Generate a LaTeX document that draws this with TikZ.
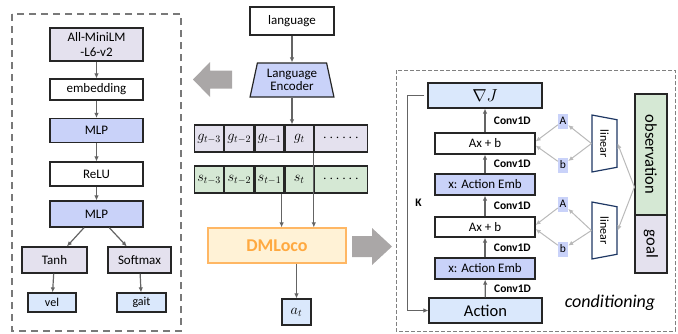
\documentclass[tikz,border=0pt]{standalone}
\usepackage{fontspec}
\setmainfont{Carlito}
\usetikzlibrary{arrows.meta,shapes.geometric}

\definecolor{lav}{RGB}{228,225,238}
\definecolor{mlpblue}{RGB}{201,210,249}
\definecolor{lblue}{RGB}{218,232,252}
\definecolor{lgreen}{RGB}{213,232,212}
\definecolor{dmfill}{RGB}{255,242,214}
\definecolor{dmedge}{RGB}{255,183,100}
\definecolor{dmtext}{RGB}{255,169,64}
\definecolor{bigarr}{RGB}{170,167,167}
\definecolor{edge}{RGB}{38,38,38}
\definecolor{navy}{RGB}{31,56,100}

\begin{document}
\begin{tikzpicture}[x=1pt,y=-1pt,
		box/.style={draw=edge,line width=1.2pt,minimum width=93pt,minimum height=24pt,inner sep=1pt,font=\fontsize{13}{14.5}\selectfont},
		rbox/.style={box,minimum width=100pt,minimum height=21pt},
		cell/.style={draw=edge,line width=1.2pt,minimum height=27pt,inner sep=0pt,anchor=west,font=\fontsize{14}{16}\selectfont},
		small/.style={fill=mlpblue,minimum width=10pt,minimum height=15pt,inner sep=0pt,font=\fontsize{11.5}{12}\selectfont},
		linear/.style={trapezium,draw=navy,line width=1.2pt,fill=white,rotate=-90,trapezium left angle=72,trapezium right angle=72,
			trapezium stretches=true,minimum width=57pt,minimum height=25pt,inner sep=0pt,font=\fontsize{12}{12}\selectfont},
		arr/.style={-{Latex[length=5pt,width=4.5pt]},line width=1.2pt,draw={rgb,255:red,100;green,100;blue,100}},
		larr/.style={-{Latex[length=5pt,width=4.5pt]},line width=1pt,draw={rgb,255:red,185;green,185;blue,185}},
		conv/.style={anchor=west,xshift=5pt,font=\bfseries\fontsize{11.5}{12}\selectfont}]
	\useasboundingbox (0,0) rectangle (678,333);

	% text encoder panel
	\draw[gray!95!black,line width=1.5pt,dash pattern=on 7pt off 5pt] (12,14) rectangle (181,331);
	\node[box,fill=lav,minimum height=33pt,align=center] (mini) at (96.5,44.5) {All-MiniLM\\-L6-v2};
	\node[box,minimum height=21pt] (emb) at (96.5,89.5) {embedding};
	\node[box,fill=mlpblue] (mlp1) at (96.5,130.5) {MLP};
	\node[box] (relu) at (96.5,174) {ReLU};
	\node[box,fill=mlpblue,minimum height=26pt] (mlp2) at (96.5,214) {MLP};
	\node[box,fill=lav,minimum width=65pt,minimum height=26pt] (tanh) at (54.5,260) {Tanh};
	\node[box,fill=lav,minimum width=63pt,minimum height=26pt] (soft) at (139.5,260) {Softmax};
	\node[box,fill=lblue,minimum width=48pt,minimum height=19pt,font=\fontsize{12}{12}\selectfont] (vel) at (52,302.5) {vel};
	\node[box,fill=lblue,minimum width=49pt,minimum height=19pt,font=\fontsize{12}{12}\selectfont] (gait) at (141.5,302.5) {gait};
	\foreach \a/\b in {mini/emb,emb/mlp1,mlp1/relu,relu/mlp2,mlp2/tanh,mlp2/soft,tanh/vel,soft/gait}
		\draw[arr] (\a) -- (\b);

	% big arrows
	\fill[bigarr] (193,79.5) -- (210,62) -- (210,70.5) -- (232,70.5) -- (232,88.5) -- (210,88.5) -- (210,97) -- cycle;
	\fill[bigarr] (392,246.5) -- (372,228) -- (372,236) -- (352,236) -- (352,257) -- (372,257) -- (372,265) -- cycle;

	% middle column
	\node[box,minimum width=84pt,minimum height=28pt] (lang) at (292,21) {language};
	\node[trapezium,draw=edge,line width=1.2pt,fill=mlpblue,trapezium left angle=77,trapezium right angle=77,trapezium stretches=true,
		minimum width=84pt,minimum height=34pt,inner sep=1pt,align=center,font=\fontsize{13}{13.5}\selectfont] (enc) at (292,80) {Language\\Encoder};
	\node[cell,fill=lav,minimum width=29pt] (g3) at (194,138.5) {$g_{t-3}$};
	\node[cell,fill=lav,minimum width=29pt] (g2) at (g3.east) {$g_{t-2}$};
	\node[cell,fill=lav,minimum width=29pt] (g1) at (g2.east) {$g_{t-1}$};
	\node[cell,fill=lav,minimum width=28pt] (g0) at (g1.east) {$g_{t}$};
	\node[cell,fill=lav,minimum width=53pt] (gd) at (g0.east) {$\cdots\cdots$};
	\node[cell,fill=lgreen,minimum width=29pt] (s3) at (194,179.5) {$s_{t-3}$};
	\node[cell,fill=lgreen,minimum width=29pt] (s2) at (s3.east) {$s_{t-2}$};
	\node[cell,fill=lgreen,minimum width=29pt] (s1) at (s2.east) {$s_{t-1}$};
	\node[cell,fill=lgreen,minimum width=28pt] (s0) at (s1.east) {$s_{t}$};
	\node[cell,fill=lgreen,minimum width=53pt] (sd) at (s0.east) {$\cdots\cdots$};
	\node[draw=dmedge,line width=1.2pt,fill=dmfill,minimum width=138pt,minimum height=35pt,text=dmtext,
		font=\bfseries\fontsize{18}{20}\selectfont] (dm) at (277,245.5) {DMLoco};
	\node[box,fill=lblue,minimum width=29pt,minimum height=26pt,font=\fontsize{14}{16}\selectfont] (at) at (296.5,312) {$a_t$};
	\draw[arr] (lang) -- (enc);
	\draw[arr] (enc.south) -- (enc.south |- g0.north);
	\draw[arr] (g0.south east) -- (g0.south east |- dm.north);
	\draw[arr] ([xshift=-3pt]s1.south east) -- ([xshift=-3pt]s1.south east |- dm.north);
	\draw[arr] (dm.south -| at.north) -- (at.north);

	% conditioning panel
	\draw[gray,line width=1pt,dash pattern=on 4pt off 2pt] (396,70) rectangle (675,331);
	\node[box,fill=lblue,minimum width=114pt,minimum height=25pt,font=\fontsize{17}{18}\selectfont] (nabla) at (485,95.5) {$\nabla J$};
	\node[rbox] (ab1) at (485,143.5) {Ax + b};
	\node[rbox,fill=mlpblue] (emb1) at (485,184.5) {x: Action Emb};
	\node[rbox,minimum height=20pt] (ab2) at (485,227) {Ax + b};
	\node[rbox,fill=mlpblue] (emb2) at (485,268.5) {x: Action Emb};
	\node[box,fill=lblue,minimum width=113pt,minimum height=25pt,font=\fontsize{16.5}{18}\selectfont] (act) at (485.5,310.5) {Action};
	\foreach \a/\b in {act/emb2,emb2/ab2,ab2/emb1,emb1/ab1,ab1/nabla}
		\draw[arr] (\a) -- node[conv]{Conv1D} (\b);
	\draw[arr] ([xshift=-3pt]nabla.west) -- ++(-17,0) |- node[pos=0.25,right=4pt,font=\bfseries\fontsize{11.5}{12}\selectfont]{K} (act.west);

	\node[small] (A1) at (563,121) {A};
	\node[small] (b1) at (563,165) {b};
	\node[small] (A2) at (563,204) {A};
	\node[small] (b2) at (563,249) {b};
	\node[linear] (lin1) at (604.5,143.5) {linear};
	\node[linear] (lin2) at (604.5,230.5) {linear};
	\node[draw=edge,line width=1.2pt,fill=lgreen,rotate=-90,minimum width=121pt,minimum height=32pt,
		font=\fontsize{16.5}{18}\selectfont] (obs) at (651,154.5) {observation};
	\node[draw=edge,line width=1.2pt,fill=lav,rotate=-90,minimum width=58pt,minimum height=32pt,
		font=\fontsize{16.5}{18}\selectfont] (goal) at (651,244) {goal};
	\foreach \i in {1,2} {
		\draw[larr] (lin\i.south) -- (A\i);
		\draw[larr] (lin\i.south) -- (b\i);
		\draw[larr] (A\i) -- ([yshift=2pt]ab\i.east);
		\draw[larr] (b\i) -- ([yshift=-2pt]ab\i.east);
		\draw[larr] ([yshift=-32.5pt]obs.south) -- (lin\i.north);
	}
	\node[font=\itshape\fontsize{18}{20}\selectfont] (cond) at (610,303) {conditioning};
\end{tikzpicture}
\end{document}
